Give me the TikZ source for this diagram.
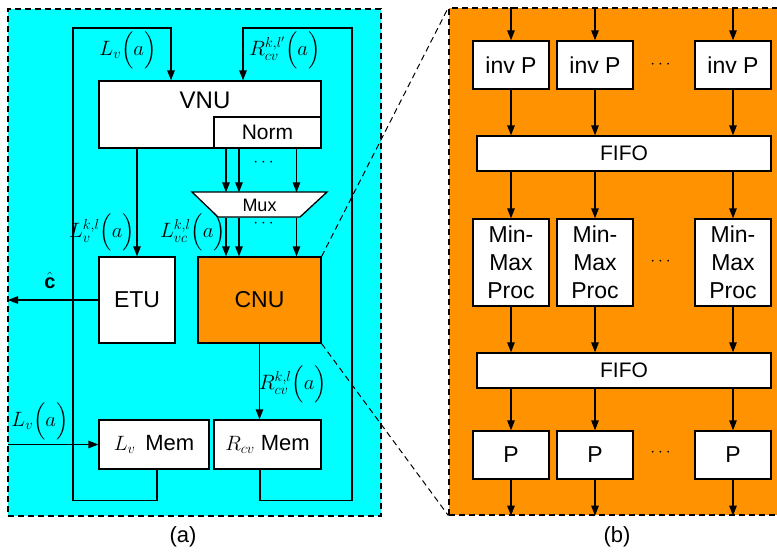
\documentclass[tikz,border=0pt]{standalone}
\usepackage{amsmath}
\usepackage{exscale}
\usepackage{fontspec}
\setmainfont{Liberation Sans}
\usetikzlibrary{arrows.meta}
\definecolor{cyanbg}{RGB}{0,255,255}
\definecolor{orangebg}{RGB}{255,146,0}
\tikzset{
  box/.style={draw, fill=white, line width=1.3pt, inner sep=0pt, font=\fontsize{23}{28}\selectfont, align=center},
  arr/.style={line width=1.3pt, -{Triangle[length=10pt,width=7.5pt]}},
  panel/.style={draw, dash pattern=on 6pt off 4pt, line width=1.2pt, inner sep=0pt},
  zoomline/.style={dash pattern=on 6pt off 4pt, line width=1pt},
  mlab/.style={font=\fontsize{20}{24}\selectfont, inner sep=0pt},
  dotlab/.style={font=\fontsize{16}{18}\selectfont, inner sep=0pt},
  caplab/.style={font=\fontsize{22}{26}\selectfont, inner sep=0pt}
}
\begin{document}
\begin{tikzpicture}[x=1pt,y=-1pt]
\useasboundingbox (0,0) rectangle (777,552);
\clip (0,0) rectangle (777,552);
% panels
\node[panel, fill=cyanbg, minimum width=373pt, minimum height=507pt] (pa) at (194.5,262.5) {};
\node[panel, fill=orangebg, minimum width=341pt, minimum height=507pt] (pb) at (619.5,261.5) {};

% ---------- panel (a)
\coordinate (tl) at (73,28);
\coordinate (tr) at (352,28);
\coordinate (m1) at (226,0);
\coordinate (m2) at (239,0);
\coordinate (m3) at (296.5,0);
\coordinate (cout) at (8,300);
\coordinate (lin) at (8,444.5);

\node[box, minimum width=222pt, minimum height=67pt] (vnu) at (210,114.5) {};
\node[font=\fontsize{24}{28}\selectfont, inner sep=0pt] (vnut) at (205,100) {VNU};
\node[box, font=\fontsize{21}{24}\selectfont, minimum width=107pt, minimum height=31pt] (norm) at (267.5,132.5) {Norm};
\draw[line width=1.3pt, fill=white] (192,192) -- (327,192) -- (300,217) -- (218,217) -- cycle;
\node[font=\fontsize{18}{20}\selectfont, inner sep=0pt, minimum width=135pt, minimum height=25pt] (mux) at (259.5,205) {Mux};
\node[box, minimum width=76pt, minimum height=86pt] (etu) at (137,300) {ETU};
\node[box, fill=orangebg, minimum width=123pt, minimum height=86pt] (cnu) at (259.5,300) {CNU};
\node[box, font=\fontsize{22}{26}\selectfont, minimum width=110pt, minimum height=49pt] (lvmem) at (154,444.5) {$L_v$\, Mem};
\node[box, font=\fontsize{22}{26}\selectfont, minimum width=107pt, minimum height=49pt] (rcvmem) at (267.5,444.5) {$R_{cv}$ Mem};

% loops
\draw[arr] ([xshift=3pt]lvmem.south) -- ++(0,31) -| (tl) -| ([xshift=-39pt]vnu.north);
\draw[arr] ([xshift=-7.5pt]rcvmem.south) -- ++(0,31) -| (tr) -| ([xshift=33pt]vnu.north);

% norm -> mux -> cnu
\foreach \c in {m1,m2,m3} {
  \draw[arr] (norm.south -| \c) -- (mux.north -| \c);
  \draw[arr] (mux.south -| \c) -- (cnu.north -| \c);
}
\node[dotlab] (dA) at (265,163) {$\cdots$};
\node[dotlab] (dB) at (265,224) {$\cdots$};

\draw[arr] (vnu.south -| etu.north) -- (etu.north);
\draw[arr] (etu.west) -- (cout);
\draw[arr] (lin) -- (lvmem.west);
\draw[arr] (cnu.south) -- (cnu.south |- rcvmem.north);

% math labels
\node[mlab] (lab1) at (128,50) {$L_v\Bigl(a\Bigr)$};
\node[mlab] (lab2) at (285,50) {$R_{cv}^{k,l'}\Bigl(a\Bigr)$};
\node[mlab] (lab3) at (102,232) {$L_v^{k,l}\Bigl(a\Bigr)$};
\node[mlab] (lab4) at (193,232) {$L_{vc}^{k,l}\Bigl(a\Bigr)$};
\node[mlab] (lab5) at (293,384) {$R_{cv}^{k,l}\Bigl(a\Bigr)$};
\node[mlab] (lab6) at (40,421) {$L_v\Bigl(a\Bigr)$};
\node[mlab] (lab7) at (50,280) {$\hat{\mathbf{c}}$};

% zoom lines
\draw[zoomline] (cnu.north east) -- (pb.north west);
\draw[zoomline] (cnu.south east) -- (pb.south west);

% ---------- panel (b)
\foreach \n/\x in {1/511,2/595,3/733} {
  \node[box, minimum width=76pt, minimum height=48pt] (ip\n) at (\x,65) {inv P};
  \node[box, minimum width=76pt, minimum height=87pt] (mm\n) at (\x,262.5) {Min-\\Max\\Proc};
  \node[box, minimum width=76pt, minimum height=48pt] (p\n) at (\x,455) {P};
}
\node[box, font=\fontsize{21}{24}\selectfont, minimum width=294pt, minimum height=35pt] (f1) at (624,153.5) {FIFO};
\node[box, font=\fontsize{21}{24}\selectfont, minimum width=294pt, minimum height=35pt] (f2) at (624,370.5) {FIFO};
\foreach \n in {1,2,3} {
  \draw[arr] (pb.north -| ip\n) -- (ip\n.north);
  \draw[arr] (ip\n.south) -- (f1.north -| ip\n);
  \draw[arr] (f1.south -| mm\n) -- (mm\n.north);
  \draw[arr] (mm\n.south) -- (f2.north -| mm\n);
  \draw[arr] (f2.south -| p\n) -- (p\n.north);
  \draw[arr] (p\n.south) -- (pb.south -| p\n);
}
\node[dotlab] (dC) at (662,65) {$\cdots$};
\node[dotlab] (dD) at (662,262) {$\cdots$};
\node[dotlab] (dE) at (662,453) {$\cdots$};

% captions
\node[caplab] (capa) at (183,537) {(a)};
\node[caplab] (capb) at (617,537) {(b)};
\end{tikzpicture}
\end{document}
